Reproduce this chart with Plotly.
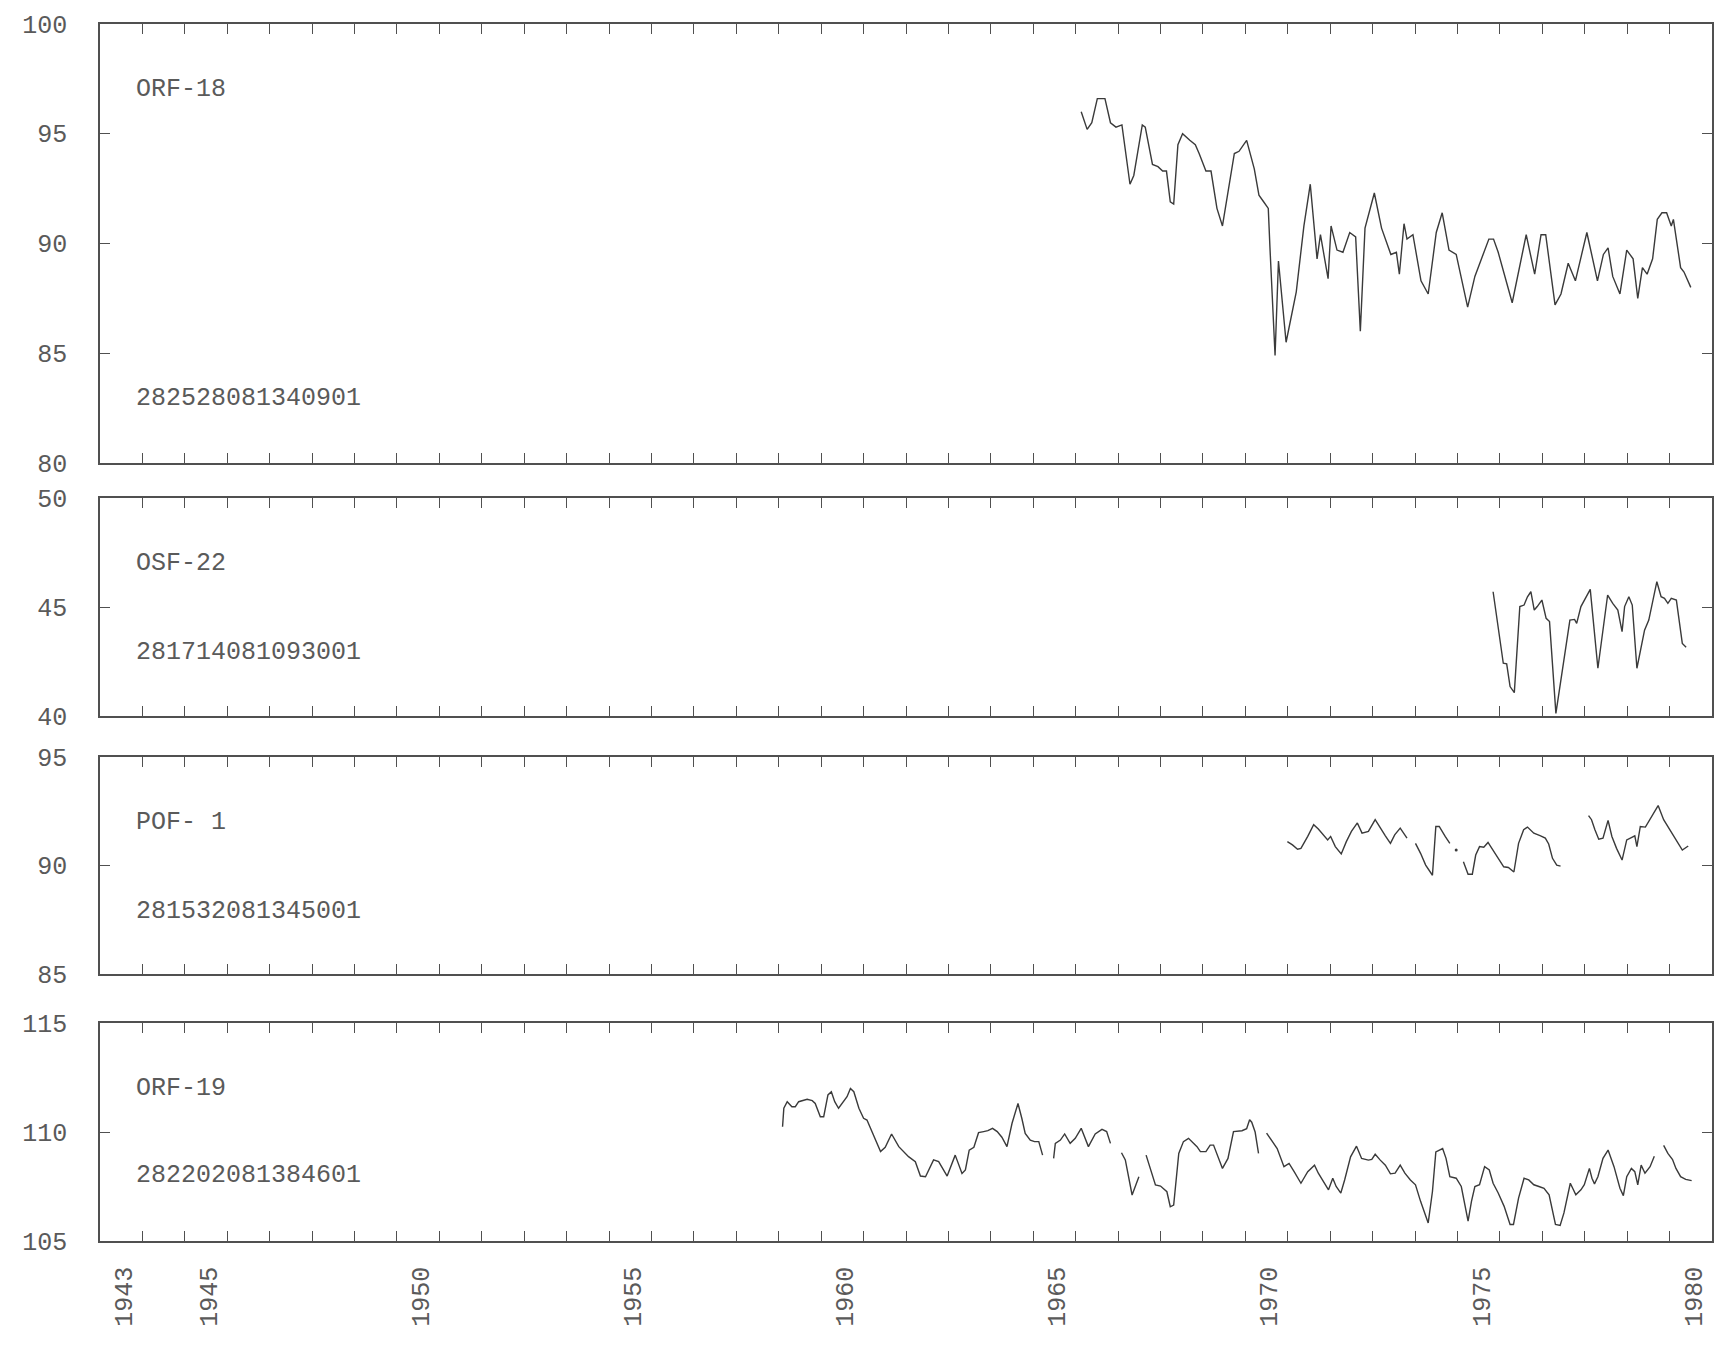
import plotly.graph_objects as go

# ---------------- data ----------------
# Panel 1: ORF-18  282528081340901
p1_year = [1966.13, 1966.27, 1966.38, 1966.51, 1966.69, 1966.82, 1966.95, 1967.09, 1967.28, 1967.37,
           1967.57, 1967.64, 1967.81, 1967.94, 1968.05, 1968.14, 1968.23, 1968.31, 1968.41, 1968.52,
           1968.69, 1968.82, 1968.91, 1969.07, 1969.19, 1969.33, 1969.46, 1969.74, 1969.85, 1970.03,
           1970.21, 1970.32, 1970.43, 1970.54, 1970.58, 1970.70, 1970.78, 1970.96, 1971.20, 1971.38,
           1971.53, 1971.69, 1971.77, 1971.95, 1972.02, 1972.16, 1972.30, 1972.46, 1972.60, 1972.71,
           1972.82, 1973.04, 1973.21, 1973.43, 1973.56, 1973.63, 1973.74, 1973.81, 1973.95, 1974.14,
           1974.31, 1974.50, 1974.64, 1974.80, 1974.97, 1975.24, 1975.41, 1975.74, 1975.85, 1975.96,
           1976.29, 1976.62, 1976.82, 1976.97, 1977.08, 1977.30, 1977.44, 1977.61, 1977.78, 1978.05,
           1978.30, 1978.44, 1978.55, 1978.66, 1978.83, 1978.99, 1979.14, 1979.25, 1979.36, 1979.47,
           1979.60, 1979.71, 1979.82, 1979.93, 1980.04, 1980.09, 1980.26, 1980.34, 1980.50]
p1_level = [96.0, 95.2, 95.5, 96.6, 96.6, 95.5, 95.3, 95.4, 92.7, 93.1,
            95.4, 95.3, 93.6, 93.5, 93.3, 93.3, 91.9, 91.8, 94.5, 95.0,
            94.7, 94.5, 94.1, 93.3, 93.3, 91.6, 90.8, 94.1, 94.2, 94.7,
            93.4, 92.2, 91.9, 91.6, 89.8, 84.9, 89.2, 85.5, 87.8, 90.8,
            92.7, 89.3, 90.4, 88.4, 90.8, 89.7, 89.6, 90.5, 90.3, 86.0,
            90.7, 92.3, 90.7, 89.5, 89.6, 88.6, 90.9, 90.2, 90.4, 88.3,
            87.7, 90.5, 91.4, 89.7, 89.5, 87.1, 88.5, 90.2, 90.2, 89.6,
            87.3, 90.4, 88.6, 90.4, 90.4, 87.2, 87.7, 89.1, 88.3, 90.5,
            88.3, 89.5, 89.8, 88.5, 87.7, 89.7, 89.3, 87.5, 88.9, 88.6,
            89.3, 91.1, 91.4, 91.4, 90.8, 91.1, 88.9, 88.7, 88.0]

# Panel 2: OSF-22  281714081093001
p2_year = [1975.84, 1975.91, 1975.98, 1976.08, 1976.16, 1976.24, 1976.34, 1976.42, 1976.47, 1976.57,
           1976.65, 1976.73, 1976.81, 1976.88, 1976.99, 1977.09, 1977.17, 1977.32, 1977.48, 1977.65,
           1977.76, 1977.81, 1977.91, 1978.03, 1978.13, 1978.31, 1978.54, 1978.66, 1978.78, 1978.88,
           1978.94, 1979.04, 1979.12, 1979.23, 1979.41, 1979.51, 1979.70, 1979.80, 1979.88, 1979.96,
           1980.04, 1980.16, 1980.30, 1980.39]
p2_level = [45.70, 44.71, 43.64, 42.42, 42.39, 41.35, 41.07, 43.49, 45.02, 45.09,
            45.47, 45.70, 44.86, 45.02, 45.32, 44.48, 44.33, 40.12, 42.26, 44.40,
            44.43, 44.25, 45.02, 45.47, 45.81, 42.19, 45.55, 45.17, 44.86, 43.87,
            45.02, 45.47, 45.09, 42.19, 43.94, 44.40, 46.16, 45.47, 45.40, 45.17,
            45.40, 45.32, 43.33, 43.15]

# Panel 3: POF- 1  281532081345001  (None = gap in record)
p3_year = [1970.99, 1971.11, 1971.23, 1971.31, 1971.47, 1971.61, 1971.72, 1971.85, 1971.94, 1972.01,
           1972.12, 1972.26, 1972.38, 1972.50, 1972.64, 1972.75, 1972.90, 1973.06, 1973.20, 1973.30,
           1973.42, 1973.52, 1973.65, 1973.73, 1973.81, None,
           1974.01, 1974.13, 1974.25, 1974.41, 1974.49, 1974.57, 1974.71, 1974.82, None,
           1975.14, 1975.25, 1975.35, 1975.43, 1975.52, 1975.62, 1975.72, 1975.84, 1976.00, 1976.09,
           1976.20, 1976.33, 1976.44, 1976.56, 1976.65, 1976.80, 1976.96, 1977.07, 1977.15, 1977.24,
           1977.34, 1977.43, None,
           1978.09, 1978.16, 1978.24, 1978.33, 1978.43, 1978.55, 1978.64, 1978.75, 1978.88, 1978.99,
           1979.11, 1979.18, 1979.23, 1979.31, 1979.43, 1979.59, 1979.73, 1979.86, 1979.98, 1980.14,
           1980.30, 1980.44]
p3_level = [91.10, 90.95, 90.75, 90.79, 91.34, 91.88, 91.68, 91.41, 91.18, 91.34,
            90.87, 90.53, 91.10, 91.57, 91.96, 91.49, 91.57, 92.11, 91.65, 91.37,
            91.02, 91.41, 91.72, 91.49, 91.26, None,
            91.02, 90.56, 90.02, 89.55, 91.80, 91.80, 91.34, 91.02, None,
            90.17, 89.60, 89.60, 90.48, 90.87, 90.84, 91.06, 90.71, 90.25, 89.94,
            89.91, 89.70, 91.02, 91.65, 91.77, 91.49, 91.37, 91.26, 90.99, 90.33,
            90.02, 89.97, None,
            92.30, 92.11, 91.65, 91.21, 91.26, 92.08, 91.34, 90.79, 90.25, 91.18,
            91.30, 91.37, 90.87, 91.80, 91.77, 92.27, 92.76, 92.11, 91.72, 91.26,
            90.71, 90.90]
p3_dot_year = [1974.97]
p3_dot_level = [90.71]

# Panel 4: ORF-19  282202081384601
p4_year = [1959.09, 1959.12, 1959.20, 1959.31, 1959.39, 1959.47, 1959.67, 1959.79, 1959.86, 1959.98,
           1960.06, 1960.16, 1960.24, 1960.32, 1960.41, 1960.53, 1960.61, 1960.69, 1960.77, 1960.89,
           1961.00, 1961.08, 1961.24, 1961.40, 1961.51, 1961.66, 1961.83, 1962.06, 1962.22, 1962.34,
           1962.46, 1962.65, 1962.77, 1962.97, 1963.16, 1963.32, 1963.40, 1963.49, 1963.60, 1963.71,
           1963.83, 1963.93, 1964.04, 1964.15, 1964.26, 1964.38, 1964.50, 1964.64, 1964.73, 1964.81,
           1964.93, 1965.03, 1965.13, 1965.22, None,
           1965.48, 1965.52, 1965.64, 1965.74, 1965.87, 1965.99, 1966.13, 1966.23, 1966.30, 1966.46,
           1966.62, 1966.73, 1966.82, None,
           1967.08, 1967.17, 1967.33, 1967.41, 1967.49, None,
           1967.66, 1967.80, 1967.88, 1968.00, 1968.15, 1968.23, 1968.31, 1968.43, 1968.54, 1968.66,
           1968.86, 1968.94, 1969.07, 1969.17, 1969.25, 1969.46, 1969.59, 1969.72, 1969.92, 1970.03,
           1970.10, 1970.15, 1970.23, 1970.31, None,
           1970.50, 1970.63, 1970.75, 1970.91, 1971.03, 1971.15, 1971.31, 1971.47, 1971.63, 1971.72,
           1971.85, 1971.96, 1972.06, 1972.14, 1972.25, 1972.34, 1972.48, 1972.62, 1972.74, 1972.90,
           1972.98, 1973.06, 1973.18, 1973.30, 1973.42, 1973.53, 1973.65, 1973.76, 1973.89, 1974.01,
           1974.13, 1974.23, 1974.31, 1974.41, 1974.49, 1974.65, 1974.73, 1974.82, 1974.97, 1975.09,
           1975.17, 1975.25, 1975.33, 1975.41, 1975.52, 1975.64, 1975.75, 1975.84, 1975.96, 1976.10,
           1976.24, 1976.32, 1976.44, 1976.57, 1976.68, 1976.80, 1976.92, 1977.04, 1977.16, 1977.31,
           1977.42, 1977.51, 1977.66, 1977.79, 1977.91, 1977.99, 1978.11, 1978.17, 1978.23, 1978.31,
           1978.43, 1978.55, 1978.69, 1978.83, 1978.91, 1978.99, 1979.10, 1979.18, 1979.25, 1979.33,
           1979.42, 1979.54, 1979.64, None,
           1979.86, 1979.96, 1980.07, 1980.15, 1980.26, 1980.38, 1980.52]
p4_level = [110.24, 111.09, 111.39, 111.16, 111.16, 111.39, 111.50, 111.44, 111.31, 110.70,
            110.70, 111.70, 111.85, 111.39, 111.09, 111.39, 111.62, 112.00, 111.85, 111.09,
            110.63, 110.55, 109.86, 109.10, 109.30, 109.91, 109.33, 108.87, 108.64, 107.98,
            107.95, 108.72, 108.64, 107.98, 108.94, 108.10, 108.26, 109.17, 109.30, 109.97,
            110.02, 110.06, 110.17, 110.02, 109.76, 109.33, 110.40, 111.31, 110.63, 109.94,
            109.63, 109.56, 109.56, 108.94, None,
            108.79, 109.48, 109.63, 109.91, 109.48, 109.71, 110.17, 109.63, 109.33, 109.91,
            110.12, 110.02, 109.48, None,
            109.05, 108.72, 107.11, 107.57, 107.95, None,
            108.94, 108.03, 107.57, 107.52, 107.26, 106.57, 106.65, 109.02, 109.56, 109.71,
            109.33, 109.10, 109.10, 109.40, 109.40, 108.33, 108.79, 110.02, 110.06, 110.15,
            110.56, 110.45, 110.00, 109.02, None,
            109.95, 109.55, 109.24, 108.41, 108.56, 108.18, 107.65, 108.18, 108.48, 108.11,
            107.73, 107.35, 107.88, 107.50, 107.20, 107.80, 108.86, 109.35, 108.79, 108.71,
            108.74, 108.98, 108.71, 108.48, 108.08, 108.11, 108.48, 108.11, 107.80, 107.58,
            106.82, 106.29, 105.83, 107.27, 109.09, 109.24, 108.79, 107.95, 107.88, 107.50,
            106.74, 105.91, 106.82, 107.50, 107.58, 108.41, 108.26, 107.65, 107.20, 106.59,
            105.76, 105.76, 106.97, 107.88, 107.80, 107.58, 107.50, 107.42, 107.12, 105.76,
            105.71, 106.29, 107.65, 107.12, 107.35, 107.58, 108.33, 107.88, 107.62, 107.95,
            108.79, 109.17, 108.41, 107.42, 107.08, 107.95, 108.33, 108.18, 107.58, 108.48,
            108.11, 108.41, 108.89, None,
            109.39, 109.02, 108.74, 108.33, 107.95, 107.83, 107.77]

well_names = ["ORF-18", "OSF-22", "POF- 1", "ORF-19"]
well_ids = ["282528081340901", "281714081093001", "281532081345001", "282202081384601"]
y_ranges = [(80, 100), (40, 50), (85, 95), (105, 115)]
year_labels = [1943, 1945, 1950, 1955, 1960, 1965, 1970, 1975, 1980]

# ---------------- figure ----------------
W, H = 1728, 1345
LINE = "#3a3a3a"
FRAME = "#505050"
TXT = "#5a5a5a"
FONT = "Liberation Mono"
FS = 25

domains = [(0.6393, 1.0), (0.4314, 0.6105), (0.2194, 0.3977), (0.0, 0.1791)]
name_y = [0.85, 0.70, 0.70, 0.70]
id_y = [0.146, 0.29, 0.29, 0.30]

fig = go.Figure()
series = [(p1_year, p1_level), (p2_year, p2_level), (p3_year, p3_level), (p4_year, p4_level)]
for i, (xs, ys) in enumerate(series):
    sfx = "" if i == 0 else str(i + 1)
    fig.add_trace(go.Scatter(x=xs, y=ys, mode="lines", connectgaps=False,
                             line=dict(color=LINE, width=1.4),
                             xaxis="x" + sfx, yaxis="y" + sfx, showlegend=False))
fig.add_trace(go.Scatter(x=p3_dot_year, y=p3_dot_level, mode="markers",
                         marker=dict(color=LINE, size=3), xaxis="x3", yaxis="y3",
                         showlegend=False))

all_years = list(range(1943, 1981))
ticktext = [str(y) if y in year_labels else "" for y in all_years]

layout = dict(width=W, height=H, paper_bgcolor="white", plot_bgcolor="white",
              margin=dict(l=100, r=16, t=24, b=104), showlegend=False,
              font=dict(family=FONT, color=TXT, size=FS))
annotations = []
for i in range(4):
    sfx = "" if i == 0 else str(i + 1)
    lo, hi = y_ranges[i]
    xa = dict(domain=[0, 1], range=[1943, 1981], anchor="y" + sfx,
              showline=True, linecolor=FRAME, linewidth=1.6, mirror="ticks",
              ticks="inside", ticklen=10, tickwidth=1.3, tickcolor=FRAME,
              tickmode="array", tickvals=all_years, showgrid=False, zeroline=False)
    if i == 3:
        xa.update(ticktext=ticktext, showticklabels=True, tickangle=-90,
                  ticklabelshift=24, ticklabelstandoff=14,
                  tickfont=dict(family=FONT, color=TXT, size=FS))
    else:
        xa.update(showticklabels=False)
    if i > 0:
        xa["matches"] = "x"
    ya = dict(domain=list(domains[i]), range=[lo, hi], anchor="x" + sfx,
              showline=True, linecolor=FRAME, linewidth=1.6, mirror="ticks",
              ticks="inside", ticklen=10, tickwidth=1.3, tickcolor=FRAME,
              tickmode="array", tickvals=list(range(lo, hi + 1, 5)),
              ticktext=[str(v) for v in range(lo, hi + 1, 5)],
              ticklabelstandoff=26, showgrid=False, zeroline=False,
              tickfont=dict(family=FONT, color=TXT, size=FS))
    layout["xaxis" + sfx] = xa
    layout["yaxis" + sfx] = ya
    annotations.append(dict(text=well_names[i], xref="x" + sfx + " domain", yref="y" + sfx + " domain",
                            x=0.021, y=name_y[i], xanchor="left", yanchor="middle", showarrow=False,
                            font=dict(family=FONT, color=TXT, size=FS)))
    annotations.append(dict(text=well_ids[i], xref="x" + sfx + " domain", yref="y" + sfx + " domain",
                            x=0.021, y=id_y[i], xanchor="left", yanchor="middle", showarrow=False,
                            font=dict(family=FONT, color=TXT, size=FS)))
layout["annotations"] = annotations
fig.update_layout(**layout)

fig.write_html("out.html", config={"displayModeBar": False},
               post_script="document.body.style.margin='0';")
